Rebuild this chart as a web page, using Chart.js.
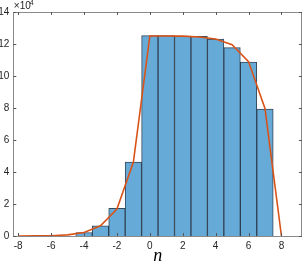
<!DOCTYPE html>
<html><head><meta charset="utf-8">
<script src="https://cdn.jsdelivr.net/npm/chart.js@4/dist/chart.umd.min.js"></script>
<style>html,body{margin:0;padding:0;background:#fff}#wrap{width:303px;height:267px}</style>
</head><body><div id="wrap"><canvas id="c" width="303" height="267"></canvas></div>
<script>
const binCenters = [-4,-3,-2,-1,0,1,2,3,4,5,6,7];
const binCounts = [2200,6400,17300,46200,125200,125200,125000,124800,123100,117700,108700,79400];
const curveN = [-8,-7,-6,-5,-4,-3,-2,-1,0,1,2,3,4,5,6,7,8];
const curveVals = [0,50,200,700,2200,6400,16800,46200,125000,125000,124900,124400,123100,119500,109000,79700,0];
const xTicks = [-8,-6,-4,-2,0,2,4,6,8];
const yTicks = [0,2,4,6,8,10,12,14];

const axisColor = '#262626';
const boxPlugin = {
  id:'box',
  afterDatasetsDraw(chart){
    const {ctx, chartArea:a, scales:{x,y}} = chart;
    ctx.save();
    ctx.strokeStyle = '#8a8a8a';
    ctx.lineWidth = 1;
    ctx.strokeRect(Math.round(a.left)+0.5, Math.round(a.top)+0.5, Math.round(a.right-a.left)-1, Math.round(a.bottom-a.top));
    ctx.strokeStyle = '#555';
    const L=3;
    ctx.beginPath();
    xTicks.forEach(v=>{const px=Math.round(x.getPixelForValue(v))+0.5;
      ctx.moveTo(px,a.bottom);ctx.lineTo(px,a.bottom-L);
      ctx.moveTo(px,a.top);ctx.lineTo(px,a.top+L);});
    yTicks.forEach(v=>{const py=Math.round(y.getPixelForValue(v*1e4))+0.5;
      ctx.moveTo(a.left,py);ctx.lineTo(a.left+L,py);
      ctx.moveTo(a.right,py);ctx.lineTo(a.right-L,py);});
    ctx.stroke();
    ctx.fillStyle = axisColor;
    ctx.font = '10px "Liberation Sans", Arial, sans-serif';
    ctx.textBaseline='alphabetic';
    ctx.fillText('\u00d710', a.left+0.5, a.top-3.5);
    ctx.font = '7px "Liberation Sans", Arial, sans-serif';
    ctx.fillText('4', a.left+16.5, a.top-7.5);
    ctx.restore();
  }
};

new Chart(document.getElementById('c'), {
  data:{datasets:[
    {type:'line', data:curveN.map((n,i)=>({x:n,y:curveVals[i]})), borderColor:'#D95319', borderWidth:1.6, pointRadius:0, tension:0, order:0},
    {type:'bar', data:binCenters.map((n,i)=>({x:n,y:binCounts[i]})), backgroundColor:'#66AAD7', borderColor:'rgba(20,40,60,0.85)', borderWidth:1, barPercentage:1, categoryPercentage:1, order:1}
  ]},
  options:{
    responsive:false, animation:false, devicePixelRatio:1,
    layout:{padding:{top:12,right:1,left:0,bottom:0}},
    plugins:{legend:{display:false}, tooltip:{enabled:false}},
    scales:{
      x:{type:'linear', min:-8.3, max:9.25, offset:false,
        grid:{display:false, drawTicks:false, offset:false}, border:{display:false},
        afterBuildTicks(s){s.ticks = xTicks.map(v=>({value:v}));},
        afterFit(s){s.height=31;},
        ticks:{color:axisColor, padding:4, maxRotation:0, autoSkip:false, font:{family:'"Liberation Sans", Arial, sans-serif', size:10}},
        title:{display:true, text:'n', color:'#000', padding:{top:1,bottom:0}, font:{family:'"Liberation Serif", serif', style:'italic', size:18}}
      },
      y:{type:'linear', min:0, max:140000,
        grid:{display:false, drawTicks:false}, border:{display:false},
        afterBuildTicks(s){s.ticks = yTicks.map(v=>({value:v*1e4}));},
        afterFit(s){s.width=13.3;},
        ticks:{color:axisColor, padding:4, autoSkip:false, callback:v=>String(v/1e4), font:{family:'"Liberation Sans", Arial, sans-serif', size:10}}
      }
    }
  },
  plugins:[boxPlugin]
});
</script></body></html>
